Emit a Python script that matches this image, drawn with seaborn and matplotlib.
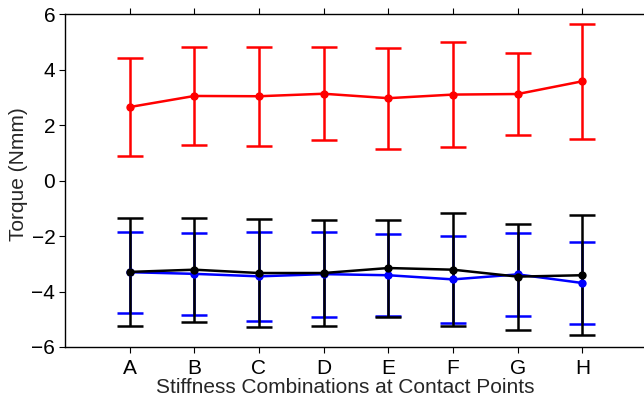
import matplotlib
matplotlib.use("Agg")
import matplotlib.pyplot as plt
import seaborn as sns
import numpy as np
import pandas as pd

# Stiffness combinations and torque statistics (mean, +/- error)
categories = ["A", "B", "C", "D", "E", "F", "G", "H"]

red_mean = [2.66, 3.06, 3.05, 3.14, 2.98, 3.11, 3.13, 3.59]
red_err = [1.78, 1.78, 1.78, 1.68, 1.82, 1.90, 1.47, 2.07]

blue_mean = [-3.30, -3.36, -3.45, -3.37, -3.41, -3.56, -3.38, -3.69]
blue_err = [1.46, 1.49, 1.60, 1.53, 1.48, 1.56, 1.49, 1.49]

black_mean = [-3.29, -3.21, -3.33, -3.33, -3.15, -3.21, -3.46, -3.41]
black_err = [1.95, 1.87, 1.96, 1.92, 1.75, 2.04, 1.91, 2.17]

y_ticks = [-6, -4, -2, 0, 2, 4, 6]

sns.set_style("ticks")
plt.rcParams["font.family"] = ["Liberation Sans", "DejaVu Sans"]

fig = plt.figure(figsize=(6.44, 4.0), dpi=100)
ax = fig.add_axes([65 / 644, 53 / 400, 582 / 644, 332.5 / 400])

pos = np.arange(1, len(categories) + 1)

series = [
    ("red", red_mean, red_err),
    ("blue", blue_mean, blue_err),
    ("black", black_mean, black_err),
]

for color, mean, err in series:
    df = pd.DataFrame({"pos": pos, "torque": mean})
    ax.errorbar(df["pos"], df["torque"], yerr=err, fmt="none", ecolor=color,
                elinewidth=1.8, capsize=9.5, capthick=1.8, zorder=2)
    sns.lineplot(data=df, x="pos", y="torque", color=color, marker="o",
                 markersize=6, markeredgewidth=0, linewidth=1.8, ax=ax,
                 zorder=3)

ax.set_xlim(0, 9)
ax.set_ylim(-6, 6)
ax.set_xticks(pos)
ax.set_xticklabels(categories)
ax.set_yticks(y_ticks)
ax.set_yticklabels([str(t).replace("-", "\u2212") for t in y_ticks])

for side in ["top", "right", "left", "bottom"]:
    ax.spines[side].set_visible(True)
    ax.spines[side].set_linewidth(1.0)
    ax.spines[side].set_color("black")

ax.tick_params(axis="both", direction="out", length=4, width=0.8,
               labelsize=15, colors="black", top=True, right=True)
ax.tick_params(axis="x", pad=5)
ax.tick_params(axis="y", pad=3)

ax.set_xlabel("Stiffness Combinations at Contact Points", fontsize=15)
ax.set_ylabel("Torque (Nmm)", fontsize=15)
ax.xaxis.set_label_coords(0.482, -0.093)
ax.yaxis.set_label_coords(-0.064, 0.52)

fig.savefig("out.png", dpi=100)
